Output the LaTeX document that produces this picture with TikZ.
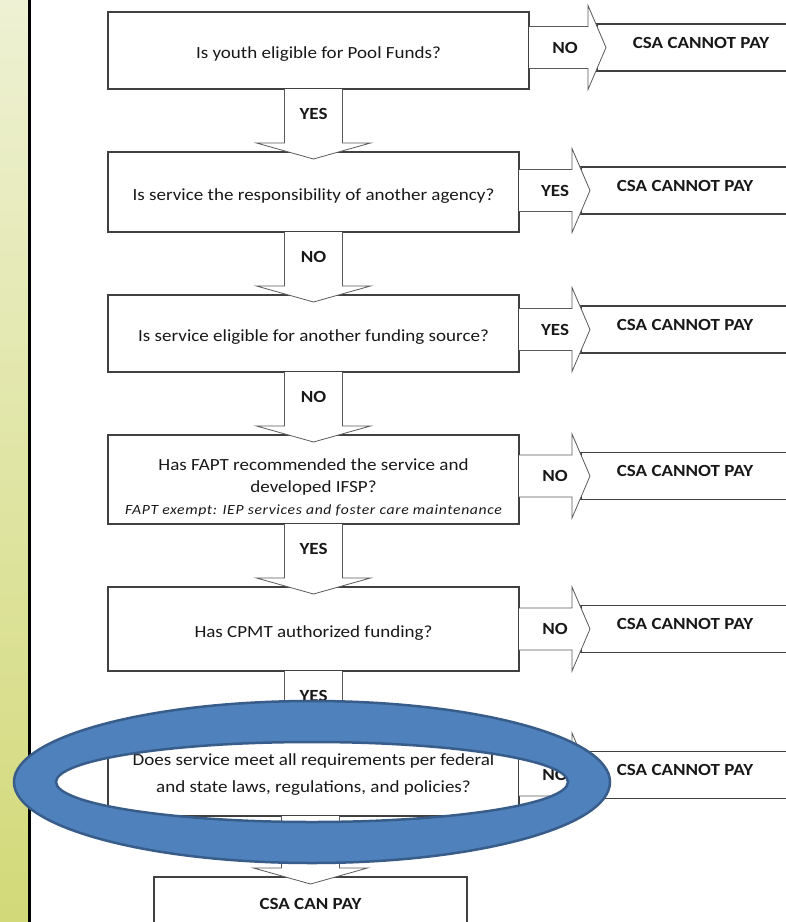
\documentclass[tikz,border=0pt]{standalone}
\usepackage{xcolor}
\usepackage{fontspec}
\setmainfont{Carlito}[FakeStretch=1.12]
\usepackage{tikz}
\usetikzlibrary{calc}
\usetikzlibrary{positioning}

\definecolor{barlight}{HTML}{EEF1D3}
\definecolor{bardark}{HTML}{D2D978}
\definecolor{boxline}{HTML}{404040}
\definecolor{arrowline}{HTML}{5A5A5A}
\definecolor{ringfill}{HTML}{4F81BD}
\definecolor{ringline}{HTML}{385D8A}

\begin{document}
\begin{tikzpicture}[x=1pt,y=-1pt,node distance=63pt,
                    question/.style={rectangle,draw=boxline,line width=1.3pt,outer sep=0pt,minimum width=411pt,align=center,
                                     text=black!90,font=\fontsize{17}{22}\selectfont},
                    one line/.style={text height=20.5pt,text depth=4pt},
                    cannot/.style={rectangle,draw=boxline,line width=1.3pt,outer sep=0pt,minimum width=208pt,minimum height=47pt,
                                   text height=11pt,text depth=10pt,text=black!90,font=\bfseries\fontsize{17}{20}\selectfont},
                    answer/.style={text=black!90,font=\bfseries\fontsize{17}{20}\selectfont},
                    right block/.style={draw=arrowline,fill=white,line width=0.8pt,
                      to path={let \p1=(\tikztostart.east), \p2=(\tikztotarget.west) in
                        (\x1,\y2+21pt) -- (\x2-9pt,\y2+21pt) -- (\x2-9pt,\y2+42pt) -- (\x2+9pt,\y2)
                        -- (\x2-9pt,\y2-42pt) -- (\x2-9pt,\y2-21pt) -- (\x1,\y2-21pt)
                        (\x1+36pt,\y2) node[answer] {#1}}},
                    down block/.style={draw=arrowline,fill=white,line width=0.8pt,
                      to path={let \p1=(\tikztostart.south), \p2=(\tikztotarget.north) in
                        (\x2-29pt,\y1) -- (\x2-29pt,\y2+9pt) -- (\x2-57pt,\y2+9pt) -- (\x2,\y2-7pt)
                        -- (\x2+57pt,\y2+9pt) -- (\x2+29pt,\y2+9pt) -- (\x2+29pt,\y1)
                        (\x2,{0.5*\y1+0.5*\y2+7pt}) node[answer] {#1}}},
                    ring/.style={fill=ringfill,draw=ringline,line width=2.5pt,even odd rule}]

  \useasboundingbox (0,0) rectangle (786,922);
  \clip (0,0) rectangle (786,922);
  \fill[white] (0,0) rectangle (786,922);

  % side bar
  \shade[top color=barlight,bottom color=bardark] (0,0) rectangle (28,922);
  \draw[line width=2.6pt] (29.5,0) -- (29.5,922);

  % questions
  \node[question,one line,minimum width=421pt,minimum height=77pt] (q1) at (318.5,50.5) {Is youth eligible for Pool Funds?};
  \node[question,one line,minimum height=80pt] (q2) [below=63pt of q1,xshift=-5pt] {Is service the responsibility of another agency?};
  \node[question,one line,minimum height=77pt] (q3) [below=of q2] {Is service eligible for another funding source?};
  \node[question,minimum height=89pt,text height=71.5pt] (q4) [below=of q3] {Has FAPT recommended the service and\\developed IFSP?\\
        {\itshape\fontsize{14}{22}\selectfont\addfontfeature{LetterSpace=4.5}FAPT exempt: IEP services and foster care maintenance}};
  \node[question,one line,minimum height=84pt] (q5) [below=of q4] {Has CPMT authorized funding?};
  \node[question,minimum height=82pt] (q6) [below=of q5] {Does service meet all requirements per federal\\[5pt]and state laws, regulations, and policies?};
  \node[cannot,minimum width=313pt,minimum height=52pt,text height=13pt,text depth=0pt] (pay) [below=61pt of q6,xshift=-3pt] {CSA CAN PAY};

  % dead ends
  \node[cannot] (n1) [right=68pt of q1,yshift=3pt] {CSA CANNOT PAY};
  \node[cannot] (n2) [right=62pt of q2,yshift=1.5pt] {CSA CANNOT PAY};
  \node[cannot] (n3) [right=62pt of q3,yshift=4pt] {CSA CANNOT PAY};
  \node[cannot] (n4) [right=62pt of q4,yshift=3.5pt] {CSA CANNOT PAY};
  \node[cannot] (n5) [right=62pt of q5] {CSA CANNOT PAY};
  \node[cannot] (n6) [right=62pt of q6] {CSA CANNOT PAY};

  \path
  (q1) edge[right block=NO] (n1)
  (q2) edge[right block=YES] (n2)
  (q3) edge[right block=YES] (n3)
  (q4) edge[right block=NO] (n4)
  (q5) edge[right block=NO] (n5)
  (q6) edge[right block=NO] (n6);

  \path
  (q1) edge[down block=YES] (q2)
  (q2) edge[down block=NO] (q3)
  (q3) edge[down block=NO] (q4)
  (q4) edge[down block=YES] (q5)
  (q5) edge[down block=YES] (q6)
  (q6) edge[down block=YES] (pay);

  % highlight ring
  \draw[ring] (312,782) ellipse [x radius=298pt,y radius=81pt]
              (312,782) ellipse [x radius=256pt,y radius=40pt];

\end{tikzpicture}
\end{document}
